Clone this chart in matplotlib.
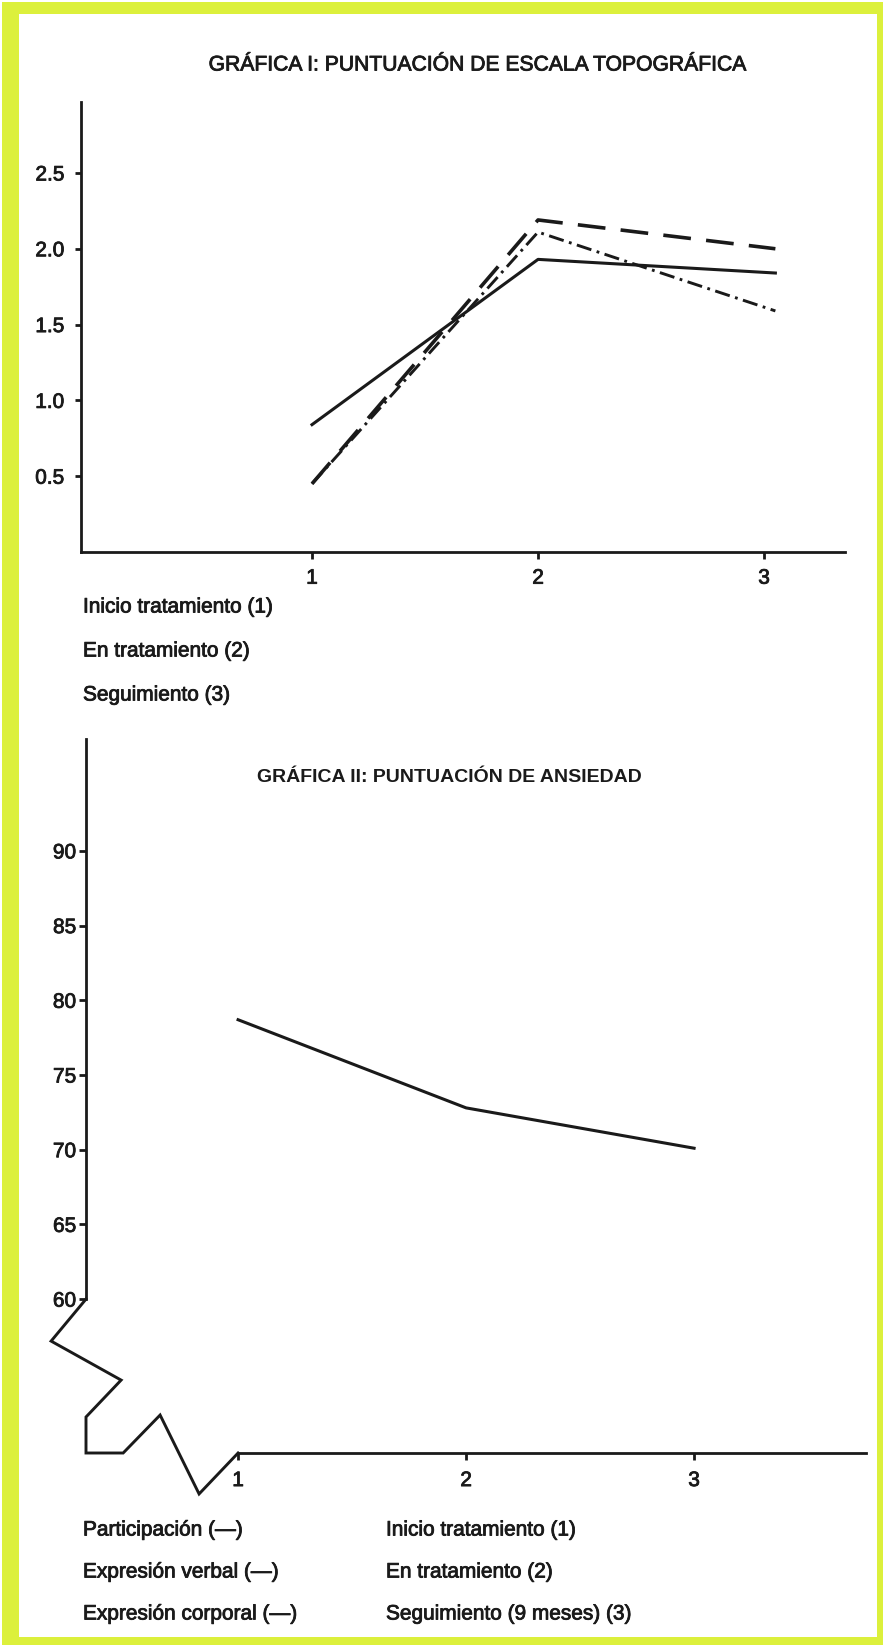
import matplotlib
matplotlib.use('Agg')
import matplotlib.pyplot as plt
import matplotlib.patheffects as pe
from matplotlib.patches import Rectangle

plt.rcParams['font.family'] = ['Liberation Sans', 'DejaVu Sans']
plt.rcParams['lines.scale_dashes'] = False

W, H = 883, 1645
TINTA = '#1a1a1a'
BORDE = '#dcf03c'
GRUESO = [pe.withStroke(linewidth=0.6, foreground=TINTA)]

# Grafica I: puntuacion de escala topografica
fases = [1, 2, 3]
x_topo = [1, 2, 3.05]
topo_continua = [0.84, 1.93, 1.84]
topo_discontinua = [0.45, 2.19, 2.00]
topo_punto_raya = [0.45, 2.11, 1.59]
ticks_topo = [0.5, 1.0, 1.5, 2.0, 2.5]
etiq_topo = ['0.5', '1.0', '1.5', '2.0', '2.5']

# Grafica II: puntuacion de ansiedad
ansiedad = [78.7, 72.8, 70.1]
ticks_ans = [60, 65, 70, 75, 80, 85, 90]

leyenda_1 = ['Inicio tratamiento (1)', 'En tratamiento (2)', 'Seguimiento (3)']
leyenda_2a = ['Participación (—)', 'Expresión verbal (—)', 'Expresión corporal (—)']
leyenda_2b = ['Inicio tratamiento (1)', 'En tratamiento (2)', 'Seguimiento (9 meses) (3)']


def fx(x):
    return x / W


def fy(y):
    return 1 - y / H


def texto(x, y, s, grueso=True, **kw):
    t = fig.text(fx(x), fy(y), s, va='center', color=TINTA, **kw)
    if grueso:
        t.set_path_effects(GRUESO)
    return t


def estilo_ejes(ax):
    for s in ['top', 'right']:
        ax.spines[s].set_visible(False)
    for s in ['left', 'bottom']:
        ax.spines[s].set_linewidth(2.0)
        ax.spines[s].set_color(TINTA)
    for lab in ax.get_xticklabels() + ax.get_yticklabels():
        lab.set_path_effects(GRUESO)


fig = plt.figure(figsize=(W / 100, H / 100), dpi=100)
fig.patch.set_facecolor('white')
# marco amarillo del escaneo
fig.patches.append(Rectangle((fx(2), 0), 1 - fx(2), 1 - 2 / H, transform=fig.transFigure,
                             facecolor=BORDE, edgecolor='none', zorder=-3))
fig.patches.append(Rectangle((fx(19), fy(1637)), fx(877 - 19), (1637 - 14) / H,
                             transform=fig.transFigure, facecolor='white',
                             edgecolor='none', zorder=-2))

# ---- grafica I ----
ax1 = fig.add_axes([fx(81), fy(552), fx(845 - 81), (552 - 102) / H])
ax1.set_xlim(-0.022, 3.358)
ax1.set_ylim(0, 2.968)
ax1.set_xticks(fases)
ax1.set_xticklabels([str(f) for f in fases])
ax1.set_yticks(ticks_topo)
ax1.set_yticklabels(etiq_topo)
ax1.tick_params(axis='x', length=5, width=2, pad=7, labelsize=15, colors=TINTA)
ax1.tick_params(axis='y', length=4, width=2, pad=8, labelsize=15, colors=TINTA)
estilo_ejes(ax1)

ax1.plot(x_topo, topo_continua, color=TINTA, lw=2.2)
ax1.plot(x_topo, topo_discontinua, color=TINTA, lw=2.6, dashes=(20, 11))
ax1.plot(x_topo, topo_punto_raya, color=TINTA, lw=2.1, dashes=(11, 4, 2, 4))

texto(478, 65, 'GRÁFICA I: PUNTUACIÓN DE ESCALA TOPOGRÁFICA', ha='center', fontsize=15.2)
for i, t in enumerate(leyenda_1):
    texto(83, 607 + i * 44, t, ha='left', fontsize=15)

# ---- grafica II ----
ax2 = fig.add_axes([fx(86), fy(1453), fx(780), 714 / H])
x_min, x_max = 0.333, 3.754
y_min, y_max = 49.70, 97.49
ax2.set_xlim(x_min, x_max)
ax2.set_ylim(y_min, y_max)
ax2.spines['left'].set_bounds(60, y_max)
ax2.spines['bottom'].set_bounds(1, x_max)
ax2.set_xticks(fases)
ax2.set_xticklabels([str(f) for f in fases])
ax2.set_yticks(ticks_ans)
ax2.set_yticklabels([str(t) for t in ticks_ans])
ax2.tick_params(axis='x', length=5, width=2, pad=8, labelsize=15, colors=TINTA)
ax2.tick_params(axis='y', length=5, width=2, pad=2, labelsize=15, colors=TINTA)
estilo_ejes(ax2)

# corte del eje (zig-zag entre 60 y el origen)
corte_x = [x_min, 0.180, 0.487, x_min, x_min, 0.496, 0.658, 0.829, 1.0]
corte_y = [60, 57.19, 54.58, 52.11, y_min, y_min, 52.24, 46.96, y_min]
ax2.plot(corte_x, corte_y, color=TINTA, lw=2.1, clip_on=False, solid_joinstyle='miter')

ax2.plot(fases, ansiedad, color=TINTA, lw=2.2)

texto(449, 777, 'GRÁFICA II: PUNTUACIÓN DE ANSIEDAD', grueso=False, ha='center',
      fontsize=14, fontweight='bold')
for i, t in enumerate(leyenda_2a):
    texto(83, 1530 + i * 42, t, ha='left', fontsize=15)
for i, t in enumerate(leyenda_2b):
    texto(386, 1530 + i * 42, t, ha='left', fontsize=15)

fig.savefig('out.png', dpi=100)
